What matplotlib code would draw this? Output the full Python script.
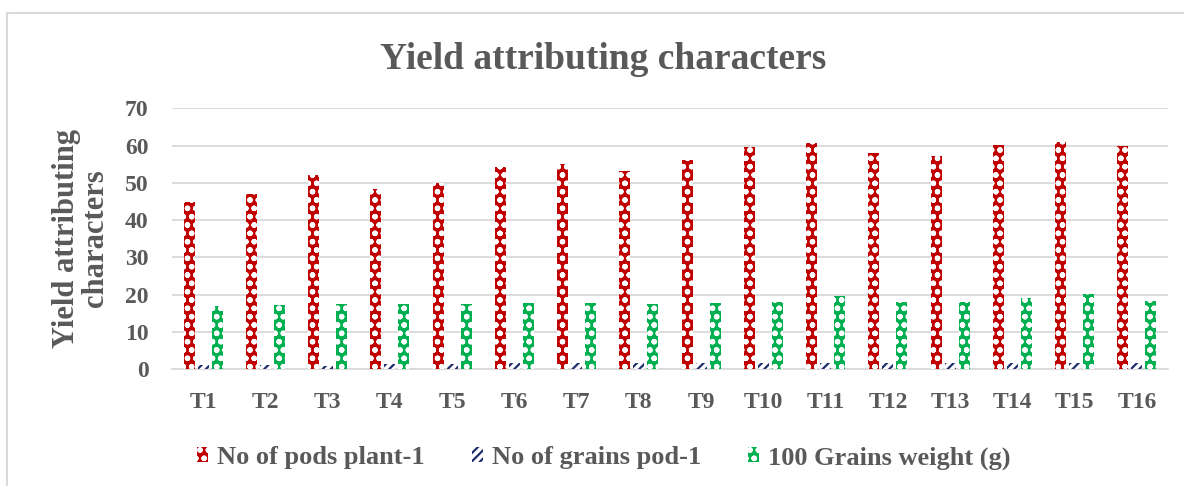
import numpy as np
import matplotlib
matplotlib.use("Agg")
import matplotlib.pyplot as plt
from matplotlib.patches import Rectangle

# data
treatments = ["T1", "T2", "T3", "T4", "T5", "T6", "T7", "T8",
              "T9", "T10", "T11", "T12", "T13", "T14", "T15", "T16"]
pods_per_plant = [45.0, 47.1, 52.1, 48.3, 50.1, 54.2, 55.1, 53.3,
                  56.2, 59.6, 60.8, 58.0, 57.3, 60.3, 61.1, 60.0]
grains_per_pod = [1.2, 1.1, 0.9, 1.3, 1.4, 1.6, 1.7, 1.6,
                  1.6, 1.7, 1.8, 1.6, 1.6, 1.6, 1.7, 1.7]
grain_weight = [17.0, 17.3, 17.6, 17.5, 17.5, 17.7, 17.8, 17.5,
                17.8, 18.1, 19.8, 18.0, 18.0, 19.0, 20.2, 18.3]
series_names = ["No of pods plant-1", "No of grains pod-1", "100 Grains weight (g)"]

plt.rcParams['font.family'] = ['Liberation Serif', 'DejaVu Serif']
plt.rcParams['font.weight'] = 'bold'
plt.rcParams['hatch.linewidth'] = 1.6
grey = '#595959'

fig = plt.figure(figsize=(11.84, 4.86), dpi=100)
ax = fig.add_axes([0.1453, 0.2401, 0.8412, 0.5369])

x = np.arange(len(treatments))
w = 0.177
off = 0.225
ax.bar(x - off, pods_per_plant, w, color='#c00000', edgecolor='white',
       linewidth=0, hatch='oo', label=series_names[0], zorder=3)
ax.bar(x, grains_per_pod, w, color='white', edgecolor='#1f2f6e',
       linewidth=0, hatch='////', label=series_names[1], zorder=3)
ax.bar(x + off, grain_weight, w, color='#00b050', edgecolor='white',
       linewidth=0, hatch='oo', label=series_names[2], zorder=3)

ax.set_xlim(-0.5, len(treatments) - 0.5)
ax.set_ylim(0, 70)
ax.set_yticks(range(0, 71, 10))
ax.set_xticks(x)
ax.set_xticklabels(treatments)
ax.grid(axis='y', color='#d9d9d9', linewidth=1.3, zorder=0)
for s in ['top', 'right', 'left']:
    ax.spines[s].set_visible(False)
ax.spines['bottom'].set_color('#d9d9d9')
ax.spines['bottom'].set_linewidth(1.3)
ax.tick_params(axis='both', length=0, labelsize=17, colors=grey)
ax.tick_params(axis='x', pad=16)
ax.tick_params(axis='y', pad=17)

fig.text(0.509, 0.877, "Yield attributing characters", ha='center', va='center',
         fontsize=27, color=grey, fontweight='bold')
fig.text(0.068, 0.51, "Yield attributing\ncharacters", rotation=90, ha='center',
         va='center', multialignment='center', fontsize=22, color=grey,
         fontweight='bold', linespacing=1.0)

leg = fig.legend(loc='center', bbox_to_anchor=(0.51, 0.058), ncol=3, frameon=False,
                 fontsize=19, handlelength=0.4, handleheight=0.5, handletextpad=0.34,
                 columnspacing=1.8, labelcolor=grey)

# chart-area frame
fig.patches.append(Rectangle((0.006, -0.05), 1.1, 1.024, transform=fig.transFigure,
                             fill=False, edgecolor='#d9d9d9', linewidth=1.5))

fig.savefig("out.png", dpi=100)
